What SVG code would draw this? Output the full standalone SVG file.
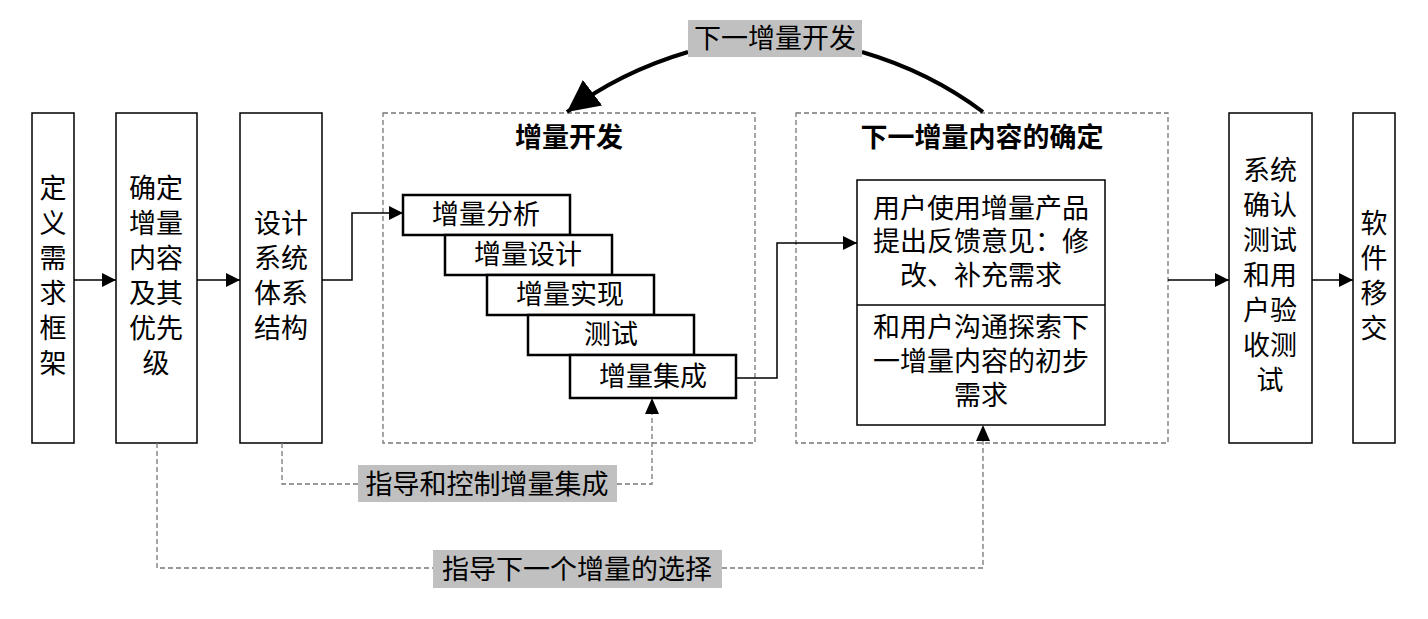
<svg xmlns="http://www.w3.org/2000/svg" width="1428" height="619" viewBox="0 0 1428 619">
<style>
text{font-family:"Liberation Serif","Noto Sans CJK SC",serif;font-size:27px;fill:#000;text-anchor:middle}
.b{fill:#fff;stroke:#000;stroke-width:1.5}
.s{fill:#fff;stroke:#000;stroke-width:2.5}
.d{fill:none;stroke:#777;stroke-width:1.3;stroke-dasharray:5,3}
.c{fill:none;stroke:#000;stroke-width:1.5}
.t{font-weight:bold}
.g{fill:#c0c0c0}
</style>
<defs>
<marker id="a" viewBox="0 0 10 10" refX="10" refY="5" markerWidth="14" markerHeight="14" markerUnits="userSpaceOnUse" orient="auto"><path d="M0,0L10,5L0,10z"/></marker>
<marker id="A" viewBox="0 0 10 10" refX="10" refY="5" markerWidth="8" markerHeight="8" orient="auto"><path d="M0,0L10,5L0,10z"/></marker>
</defs>
<g id="n1"><rect class="b" x="32" y="113" width="42" height="330"/><text x="53" y="198">定</text><text x="53" y="233">义</text><text x="53" y="268">需</text><text x="53" y="303">求</text><text x="53" y="338">框</text><text x="53" y="373">架</text></g>
<g id="n2"><rect class="b" x="116" y="113" width="81" height="330"/><text x="156" y="198">确定</text><text x="156" y="233">增量</text><text x="156" y="268">内容</text><text x="156" y="303">及其</text><text x="156" y="338">优先</text><text x="156" y="373">级</text></g>
<g id="n3"><rect class="b" x="240" y="113" width="82" height="330"/><text x="281" y="233">设计</text><text x="281" y="268">系统</text><text x="281" y="303">体系</text><text x="281" y="338">结构</text></g>
<g id="g1"><rect class="d" x="383" y="113" width="372" height="330"/><text class="t" x="569" y="147">增量开发</text></g>
<g id="s1"><rect class="s" x="403" y="195" width="167" height="40"/><text x="486" y="224">增量分析</text></g>
<g id="s2"><rect class="s" x="445" y="235" width="167" height="40"/><text x="528" y="264">增量设计</text></g>
<g id="s3"><rect class="s" x="487" y="275" width="167" height="40"/><text x="570" y="304">增量实现</text></g>
<g id="s4"><rect class="s" x="528" y="315" width="166" height="40"/><text x="611" y="344">测试</text></g>
<g id="s5"><rect class="s" x="570" y="355" width="166" height="43"/><text x="653" y="386">增量集成</text></g>
<g id="g2"><rect class="d" x="796" y="113" width="372" height="330"/><text class="t" x="982" y="147">下一增量内容的确定</text></g>
<g id="n4"><rect class="b" x="857" y="180" width="248" height="245"/><line class="c" x1="857" y1="305" x2="1105" y2="305"/>
<text x="981" y="218">用户使用增量产品</text><text x="981" y="251">提出反馈意见：修</text><text x="981" y="285">改、补充需求</text>
<text x="981" y="337">和用户沟通探索下</text><text x="981" y="371">一增量内容的初步</text><text x="981" y="405">需求</text></g>
<g id="n5"><rect class="b" x="1229" y="113" width="83" height="330"/><text x="1270" y="180">系统</text><text x="1270" y="215">确认</text><text x="1270" y="250">测试</text><text x="1270" y="285">和用</text><text x="1270" y="320">户验</text><text x="1270" y="355">收测</text><text x="1270" y="390">试</text></g>
<g id="n6"><rect class="b" x="1353" y="113" width="42" height="330"/><text x="1374" y="233">软</text><text x="1374" y="268">件</text><text x="1374" y="303">移</text><text x="1374" y="338">交</text></g>
<g id="connectors">
<path class="c" marker-end="url(#a)" d="M74,280H116"/>
<path class="c" marker-end="url(#a)" d="M197,280H240"/>
<path class="c" marker-end="url(#a)" d="M322,280H352V213H403"/>
<path class="c" marker-end="url(#a)" d="M736,378H777V243H857"/>
<path class="c" marker-end="url(#a)" d="M1168,280H1229"/>
<path class="c" marker-end="url(#a)" d="M1312,280H1353"/>
<path fill="none" stroke="#000" stroke-width="4" marker-end="url(#A)" d="M688,52Q620,72 567,112"/>
<path fill="none" stroke="#000" stroke-width="4" d="M862,52Q930,72 983,112"/>
<path class="d" d="M282,443V484H358M617,484H652V400"/>
<path d="M645,414L652,398L659,414z"/>
<path class="d" d="M157,443V568H433M722,568H983V427"/>
<path d="M976,441L983,425L990,441z"/>
</g>
<g id="labels">
<rect class="g" x="688" y="20" width="174" height="37"/><text x="775" y="48">下一增量开发</text>
<rect class="g" x="358" y="465" width="259" height="37"/><text x="487" y="494">指导和控制增量集成</text>
<rect class="g" x="433" y="550" width="289" height="38"/><text x="577" y="579">指导下一个增量的选择</text>
</g>
</svg>
